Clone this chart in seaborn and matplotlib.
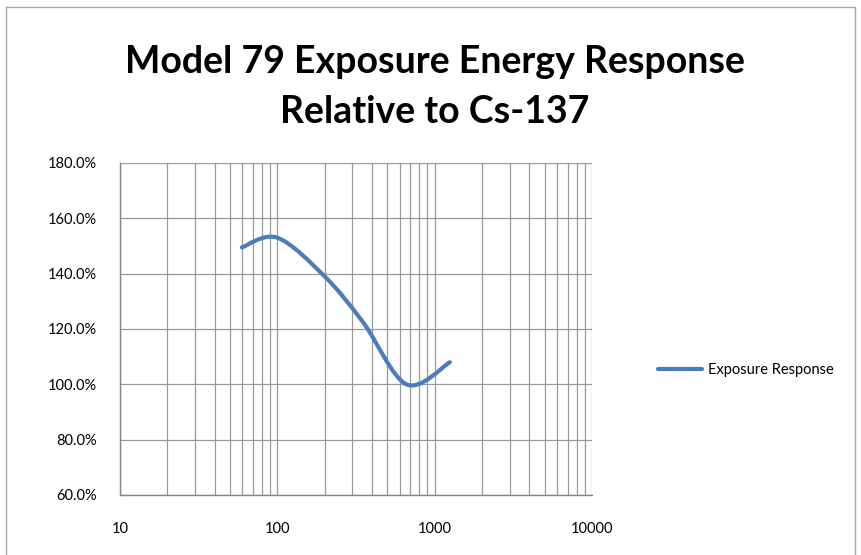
import numpy as np
import pandas as pd
import seaborn as sns
import matplotlib.pyplot as plt
from matplotlib.path import Path
from matplotlib.patches import PathPatch, Rectangle
from matplotlib.lines import Line2D
from matplotlib.ticker import FixedLocator, FixedFormatter, LogLocator, NullFormatter

# Dados
energia_kev = [59.5, 100, 200, 350, 662, 1250]
resposta_pct = [149.5, 153.0, 139.0, 122.5, 100.0, 108.0]
serie = 'Exposure Response'
titulo = 'Model 79 Exposure Energy Response\nRelative to Cs-137'
y_ticks = [60, 80, 100, 120, 140, 160, 180]
y_labels = ['60.0%', '80.0%', '100.0%', '120.0%', '140.0%', '160.0%', '180.0%']
x_ticks = [10, 100, 1000, 10000]
x_labels = ['10', '100', '1000', '10000']

df = pd.DataFrame({'energia': energia_kev, 'resposta': resposta_pct})

sns.set_style('white')
plt.rcParams['font.family'] = ['Lato', 'DejaVu Sans']

cor = '#4a7ebb'
cinza = '#9a9a9a'

fig = plt.figure(figsize=(8.62, 5.55), dpi=100)
ax = fig.add_axes([120 / 862, 1 - 495 / 555, 472 / 862, 332 / 555])

sns.lineplot(data=df, x='energia', y='resposta', ax=ax, color=cor, lw=3)
ax.set_xscale('log')
ax.set_xlim(10, 10000)
ax.set_ylim(60, 180)

# Linha suavizada (estilo Excel): Catmull-Rom em espaco log
linha = ax.lines[0]
xy = linha.get_xydata()
linha.remove()
pts = np.column_stack([np.log10(xy[:, 0]), xy[:, 1]])
verts = [pts[0]]
codes = [Path.MOVETO]
n = len(pts)
for i in range(n - 1):
    p0 = pts[max(i - 1, 0)]
    p1 = pts[i]
    p2 = pts[i + 1]
    p3 = pts[min(i + 2, n - 1)]
    verts += [p1 + (p2 - p0) / 6, p2 - (p3 - p1) / 6, p2]
    codes += [Path.CURVE4] * 3
verts = np.array(verts)
verts[:, 0] = 10 ** verts[:, 0]
ax.add_patch(PathPatch(Path(verts, codes), fill=False, edgecolor=cor, lw=3,
                       capstyle='round', joinstyle='round', zorder=5))

# Grade
ax.yaxis.set_major_locator(FixedLocator(y_ticks))
ax.yaxis.set_major_formatter(FixedFormatter(y_labels))
ax.xaxis.set_major_locator(FixedLocator(x_ticks))
ax.xaxis.set_major_formatter(FixedFormatter(x_labels))
ax.xaxis.set_minor_locator(LogLocator(base=10, subs=np.arange(2, 10)))
ax.xaxis.set_minor_formatter(NullFormatter())
ax.grid(True, which='both', color=cinza, lw=0.9)
ax.set_axisbelow(True)
for s in ['top', 'right']:
    ax.spines[s].set_visible(False)
for s in ['left', 'bottom']:
    ax.spines[s].set_color('#868686')
    ax.spines[s].set_linewidth(1)
ax.tick_params(axis='both', which='both', direction='out', length=5.5,
               color='#868686', width=0.9, labelsize=10.5, labelcolor='black')
ax.tick_params(axis='x', which='major', pad=14)
ax.tick_params(axis='y', which='major', pad=11)
ax.set_xlabel('')
ax.set_ylabel('')

fig.text(0.5 * (100 + 770) / 862, 1 - 87 / 555, titulo, ha='center', va='center',
         fontsize=27, fontweight='bold', linespacing=1.55, color='black')

handle = Line2D([0], [0], color=cor, lw=3)
fig.legend([handle], [serie], loc='center left', bbox_to_anchor=(645 / 862, 1 - 370 / 555),
           frameon=False, fontsize=10.5, handlelength=3.0, handletextpad=0.4,
           labelcolor='black')

fig.patches.append(Rectangle((6 / 862, -0.1), (855 - 6) / 862, 1 - 7 / 555 + 0.1,
                             transform=fig.transFigure, fill=False, edgecolor='#a6a6a6', lw=1))

fig.savefig('out.png', dpi=100)
